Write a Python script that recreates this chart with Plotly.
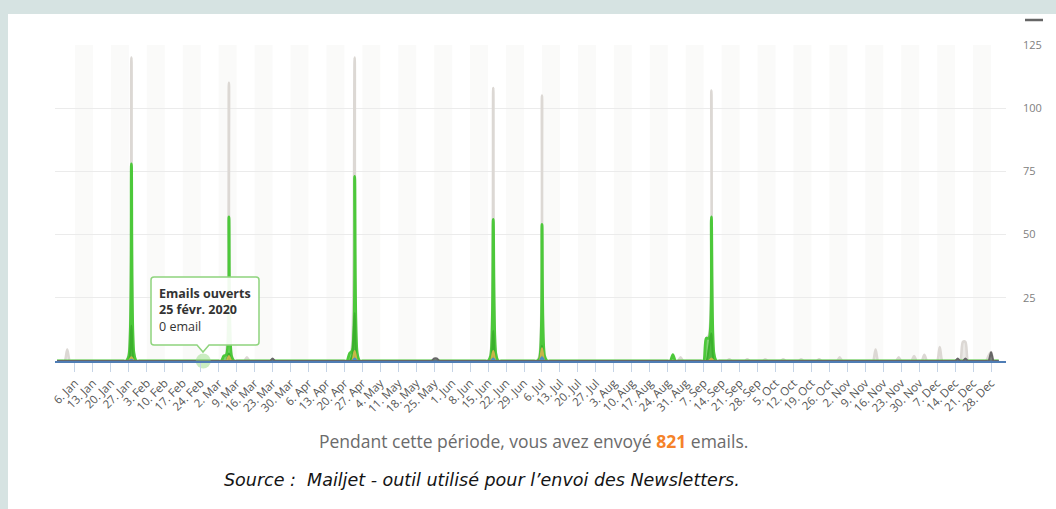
import pandas as pd
import plotly.graph_objects as go

# ---------------- data ----------------
tick_labels = ["6. Jan", "13. Jan", "20. Jan", "27. Jan", "3. Feb", "10. Feb", "17. Feb", "24. Feb",
               "2. Mar", "9. Mar", "16. Mar", "23. Mar", "30. Mar", "6. Apr", "13. Apr", "20. Apr",
               "27. Apr", "4. May", "11. May", "18. May", "25. May", "1. Jun", "8. Jun", "15. Jun",
               "22. Jun", "29. Jun", "6. Jul", "13. Jul", "20. Jul", "27. Jul", "3. Aug", "10. Aug",
               "17. Aug", "24. Aug", "31. Aug", "7. Sep", "14. Sep", "21. Sep", "28. Sep", "5. Oct",
               "12. Oct", "19. Oct", "26. Oct", "2. Nov", "9. Nov", "16. Nov", "23. Nov", "30. Nov",
               "7. Dec", "14. Dec", "21. Dec", "28. Dec"]
tick_dates = pd.date_range("2020-01-06", periods=len(tick_labels), freq="7D")

sent_dates = ["2020-01-03", "2020-01-27", "2020-01-28", "2020-01-29", "2020-03-05", "2020-03-06",
              "2020-03-07", "2020-03-13", "2020-04-23", "2020-04-24", "2020-04-25", "2020-06-16",
              "2020-06-17", "2020-06-18", "2020-07-05", "2020-07-06", "2020-07-07", "2020-08-29",
              "2020-09-08", "2020-09-09", "2020-09-10", "2020-09-11", "2020-09-17", "2020-09-24",
              "2020-10-01", "2020-10-08", "2020-10-15", "2020-10-22", "2020-10-30", "2020-11-13",
              "2020-11-22", "2020-11-28", "2020-12-02", "2020-12-08", "2020-12-17", "2020-12-18",
              "2020-12-27", "2020-12-28"]
sent_values = [4.5, 3, 120, 3, 3, 110,
               2, 1.5, 6, 120, 3, 3,
               108, 3, 2, 105, 2, 1.5,
               9, 10, 107, 3, 0.7, 0.7,
               0.7, 0.7, 0.7, 0.7, 1.5, 4.5,
               1.5, 2, 2.5, 5.5, 7.5, 7.5,
               2, 3.5]

opened_dates = ["2020-01-27", "2020-01-28", "2020-01-29", "2020-03-04", "2020-03-05", "2020-03-06",
                "2020-03-07", "2020-04-22", "2020-04-23", "2020-04-24", "2020-04-25", "2020-06-16",
                "2020-06-17", "2020-06-18", "2020-07-05", "2020-07-06", "2020-07-07", "2020-08-26",
                "2020-09-08", "2020-09-09", "2020-09-10", "2020-09-11"]
opened_values = [2, 78, 3, 2, 2.5, 57,
                 2, 3, 4, 73, 3, 2,
                 56, 3, 1, 54, 2, 2.5,
                 9, 9, 57, 3]

clicks_dates = ["2020-01-28", "2020-03-06", "2020-04-23", "2020-04-24", "2020-06-17", "2020-07-06",
                "2020-09-09", "2020-09-10"]
clicks_values = [14, 3, 2, 19, 12, 6, 5, 11]

unsub_dates = ["2020-01-28", "2020-03-06", "2020-04-24", "2020-06-17", "2020-07-06", "2020-09-10"]
unsub_values = [1.5, 2, 4, 4, 5, 1]

spam_dates = ["2020-01-28", "2020-04-24", "2020-06-17", "2020-07-06"]
spam_values = [0.5, 1, 1, 1.5]

bounce_dates = ["2020-03-23", "2020-05-25", "2020-05-26", "2020-12-15", "2020-12-18", "2020-12-28"]
bounce_values = [1, 1, 1, 1, 1, 3.5]

tooltip_date = "2020-02-25"
tooltip_lines = ["<b>Emails ouverts</b>", "<b>25 févr. 2020</b>", "0 email"]
total_sent = 821

y_ticks = [25, 50, 75, 100, 125]

# ---------------- helpers ----------------
days = pd.date_range("2019-12-30", "2020-12-31", freq="D")


def daily(dates, values):
    s = pd.Series(0.0, index=days)
    for d, v in zip(dates, values):
        s[pd.Timestamp(d)] = v
    return s


# plot geometry (pixels) used only for paper-coordinate decorations
L_PX, R_PX, T_PX, B_PX = 55, 1006, 45, 361
W_PX, H_PX = R_PX - L_PX, B_PX - T_PX


def px(x):
    return (x - L_PX) / W_PX


def py(y):
    return (B_PX - y) / H_PX


fig = go.Figure()

series = [
    ("Emails envoyés", sent_dates, sent_values, "#dcd8d4", "rgba(222,218,214,0.6)", 2.6),
    ("Emails ouverts", opened_dates, opened_values, "#4cc83a", "rgba(76,200,58,0.65)", 2.8),
    ("Clics", clicks_dates, clicks_values, "#3bb02c", "rgba(59,176,44,0.7)", 2),
    ("Désabonnements", unsub_dates, unsub_values, "#c9b54a", "rgba(201,181,74,0.7)", 2),
    ("Spam", spam_dates, spam_values, "#4a8fc4", "rgba(74,143,196,0.7)", 2),
    ("Erreurs", bounce_dates, bounce_values, "#666666", "rgba(102,102,102,0.7)", 2),
]
for name, d, v, lc, fc, lw in series:
    s = daily(d, v)
    fig.add_trace(go.Scatter(
        x=s.index, y=s.values, name=name, mode="lines",
        line=dict(color=lc, width=lw, shape="spline", smoothing=0.8),
        fill="tozeroy", fillcolor=fc, hoverinfo="skip", showlegend=False,
    ))

# hovered point marker
fig.add_trace(go.Scatter(
    x=[pd.Timestamp(tooltip_date)], y=[0], mode="markers",
    marker=dict(size=15, color="rgba(140,215,120,0.45)", line=dict(width=0)),
    cliponaxis=False, showlegend=False, hoverinfo="skip",
))

shapes = []
# outer white panel on teal background
shapes.append(dict(type="rect", xref="paper", yref="paper",
                   x0=px(8), x1=px(1060), y0=py(512), y1=py(14),
                   fillcolor="white", line=dict(width=0), layer="below"))
# alternating weekly bands
for i in range(0, len(tick_dates) - 1, 2):
    shapes.append(dict(type="rect", xref="x", yref="paper",
                       x0=tick_dates[i], x1=tick_dates[i + 1], y0=0, y1=1,
                       fillcolor="#fafaf9", line=dict(width=0), layer="below"))
# export-menu dash top right
shapes.append(dict(type="line", xref="paper", yref="paper",
                   x0=px(1025), x1=px(1043), y0=py(20), y1=py(20),
                   line=dict(color="#666666", width=2.5)))

# tooltip callout
Lb, Rb, Tb, Bb, r = 151, 259, 277, 345, 3
tip_x, tip_y, hw = 203, 352, 6
path = (f"M {px(Lb + r)},{py(Tb)} L {px(Rb - r)},{py(Tb)} "
        f"Q {px(Rb)},{py(Tb)} {px(Rb)},{py(Tb + r)} L {px(Rb)},{py(Bb - r)} "
        f"Q {px(Rb)},{py(Bb)} {px(Rb - r)},{py(Bb)} L {px(tip_x + hw)},{py(Bb)} "
        f"L {px(tip_x)},{py(tip_y)} L {px(tip_x - hw)},{py(Bb)} L {px(Lb + r)},{py(Bb)} "
        f"Q {px(Lb)},{py(Bb)} {px(Lb)},{py(Bb - r)} L {px(Lb)},{py(Tb + r)} "
        f"Q {px(Lb)},{py(Tb)} {px(Lb + r)},{py(Tb)} Z")
shapes.append(dict(type="path", xref="paper", yref="paper", path=path,
                   fillcolor="rgba(255,255,255,0.92)",
                   line=dict(color="#8fd47e", width=1.5), layer="above"))

annotations = []
for txt, ypix in zip(tooltip_lines, [293, 309.5, 326]):
    annotations.append(dict(xref="paper", yref="paper", x=px(157), y=py(ypix),
                            xanchor="left", yanchor="middle", showarrow=False, text=txt,
                            font=dict(family="Open Sans", size=12.5, color="#333333")))

annotations.append(dict(
    xref="paper", yref="paper", x=px(533), y=py(441), xanchor="center", yanchor="middle",
    showarrow=False,
    text=("Pendant cette période, vous avez envoyé "
          f"<span style='color:#f5822a'><b>{total_sent}</b></span> emails."),
    font=dict(family="Open Sans", size=17.5, color="#6b6b6b")))
annotations.append(dict(
    xref="paper", yref="paper", x=px(222), y=py(480), xanchor="left", yanchor="middle",
    showarrow=False,
    text="<i>Source :  Mailjet - outil utilisé pour l’envoi des Newsletters.</i>",
    font=dict(family="DejaVu Sans", size=17.5, color="#141414")))

fig.update_layout(
    width=1056, height=509,
    margin=dict(l=L_PX, r=1056 - R_PX, t=T_PX, b=509 - B_PX, pad=0),
    paper_bgcolor="#d6e3e2", plot_bgcolor="rgba(0,0,0,0)",
    shapes=shapes, annotations=annotations, showlegend=False,
    xaxis=dict(
        type="date", range=["2019-12-29 05:20", "2021-01-02 19:40"],
        tickvals=list(tick_dates), ticktext=tick_labels, tickangle=-45,
        tickfont=dict(family="Open Sans", size=11.5, color="#555555"),
        ticks="outside", ticklen=9, tickwidth=1, tickcolor="#c6d4e6",
        showgrid=False, zeroline=False,
        showline=True, linecolor="#4f7db5", linewidth=2,
    ),
    yaxis=dict(
        range=[0, 125], side="right", tickvals=y_ticks,
        tickfont=dict(family="Open Sans", size=11, color="#808080"),
        ticklabelstandoff=16,
        showgrid=True, gridcolor="#ebebeb", gridwidth=1,
        zeroline=False, showline=False, ticks="",
    ),
)

fig.write_html(
    "out.html",
    config={"displayModeBar": False},
    post_script="document.body.style.margin='0';document.body.style.overflow='hidden';",
)
